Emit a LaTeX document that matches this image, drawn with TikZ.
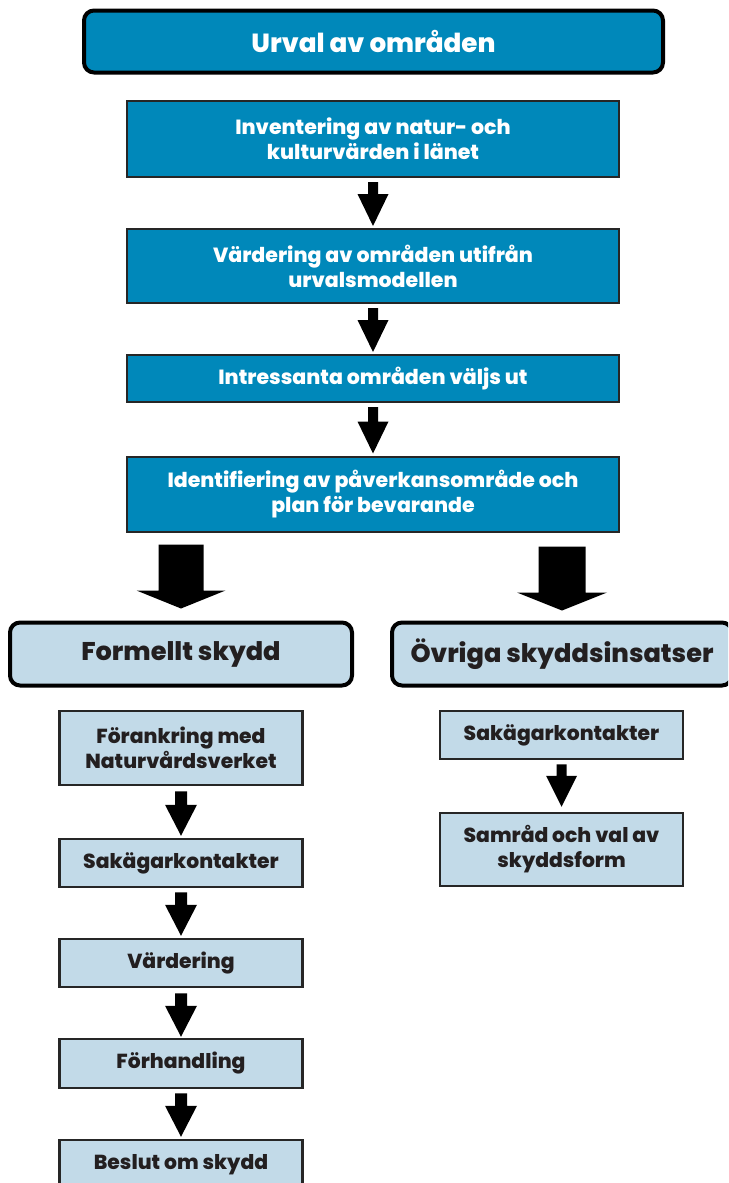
\documentclass[tikz,border=0pt]{standalone}
\usepackage{fontspec}
\setmainfont{Poppins}[BoldFont={Poppins ExtraBold}]
\usetikzlibrary{calc}
\definecolor{bluefill}{RGB}{0,136,186}
\definecolor{lightfill}{RGB}{194,218,232}
\definecolor{darktext}{RGB}{35,31,32}
\newcommand\blockarr[5]{%
  \fill[black] let \p1=(#1), \p2=(#2) in
    (\x1-#3,\y1) -- (\x1+#3,\y1) -- (\x1+#3,\y2+#5) -- (\x1+#4,\y2+#5) --
    (\x1,\y2) -- (\x1-#4,\y2+#5) -- (\x1-#3,\y2+#5) -- cycle;}
\tikzset{
  topbox/.style={draw=black, line width=4pt, rounded corners=10pt, fill=bluefill,
    text=white, font=\bfseries\fontsize{26.2}{28}\selectfont, inner sep=0pt},
  bluebox/.style={draw=black!85, line width=2pt, fill=bluefill, text=white,
    align=center, font=\bfseries\fontsize{20.5}{25}\selectfont, inner sep=0pt},
  titlebox/.style={draw=black, line width=4pt, rounded corners=10pt, fill=lightfill,
    text=darktext, font=\bfseries\fontsize{25.6}{28}\selectfont, inner sep=0pt},
  smallbox/.style={draw=black!85, line width=2.5pt, fill=lightfill, text=darktext,
    align=center, font=\bfseries\fontsize{20.3}{25}\selectfont, inner sep=0pt,
    minimum width=243pt},
}
\begin{document}
\begin{tikzpicture}[x=1pt,y=-1pt]
\useasboundingbox (0,0) rectangle (728,1183);
\clip (0,0) rectangle (728,1183);
\node[topbox, minimum width=579pt, minimum height=62pt] (top) at (373.5,41.5) {Urval av områden};
\node[bluebox, minimum width=492pt, minimum height=76pt] (b1) at (373,139) {Inventering av natur- och\\kulturvärden i länet};
\node[bluebox, minimum width=492pt, minimum height=74pt] (b2) at (373,266) {Värdering av områden utifrån\\urvalsmodellen};
\node[bluebox, minimum width=492pt, minimum height=47pt] (b3) at (373,378.5) {Intressanta områden väljs ut};
\node[bluebox, minimum width=492pt, minimum height=75pt] (b4) at (373,494) {Identifiering av påverkansområde och\\plan för bevarande};
\node[titlebox, minimum width=342pt, minimum height=63pt] (formellt) at (181,654) {Formellt skydd};
\node[titlebox, minimum width=340pt, minimum height=63pt] (ovriga) at (562,654) {Övriga skyddsinsatser};
\node[smallbox, minimum height=74pt] (l1) at (181,748) {Förankring med\\Naturvårdsverket};
\node[smallbox, minimum height=48pt] (l2) at (181,863) {Sakägarkontakter};
\node[smallbox, minimum height=48pt] (l3) at (181,963) {Värdering};
\node[smallbox, minimum height=49pt] (l4) at (181,1063.5) {Förhandling};
\node[smallbox, minimum height=50pt] (l5) at (181,1165) {Beslut om skydd};
\node[smallbox, minimum height=48pt] (r1) at (561.5,735) {Sakägarkontakter};
\node[smallbox, minimum height=73pt] (r2) at (561.5,849.5) {Samråd och val av\\skyddsform};
% blue arrows
\blockarr{[yshift=-4pt]b1.south}{[yshift=2pt]b2.north}{5pt}{15.5pt}{32pt}
\blockarr{[yshift=-4pt]b2.south}{[yshift=2pt]b3.north}{5pt}{15.5pt}{32pt}
\blockarr{[yshift=-4pt]b3.south}{[yshift=2pt]b4.north}{5pt}{15.5pt}{32pt}
% big arrows
\blockarr{[yshift=-12pt]b4.south -| formellt.north}{[yshift=12pt]formellt.north}{22.5pt}{44.5pt}{18pt}
\blockarr{[yshift=-14pt]b4.south -| ovriga.north}{[yshift=10pt]ovriga.north}{23.5pt}{45pt}{18pt}
% small arrows
\blockarr{[yshift=-5pt]l1.south}{[yshift=2pt]l2.north}{6pt}{16pt}{31pt}
\blockarr{[yshift=-4pt]l2.south}{[yshift=2pt]l3.north}{6pt}{16pt}{31pt}
\blockarr{[yshift=-5pt]l3.south}{[yshift=1pt]l4.north}{6pt}{16pt}{31pt}
\blockarr{[yshift=-4pt]l4.south}{[yshift=2pt]l5.north}{6pt}{16pt}{31pt}
\blockarr{[yshift=-4pt]r1.south}{[yshift=5pt]r2.north}{5pt}{15.5pt}{31pt}
\end{tikzpicture}
\end{document}
